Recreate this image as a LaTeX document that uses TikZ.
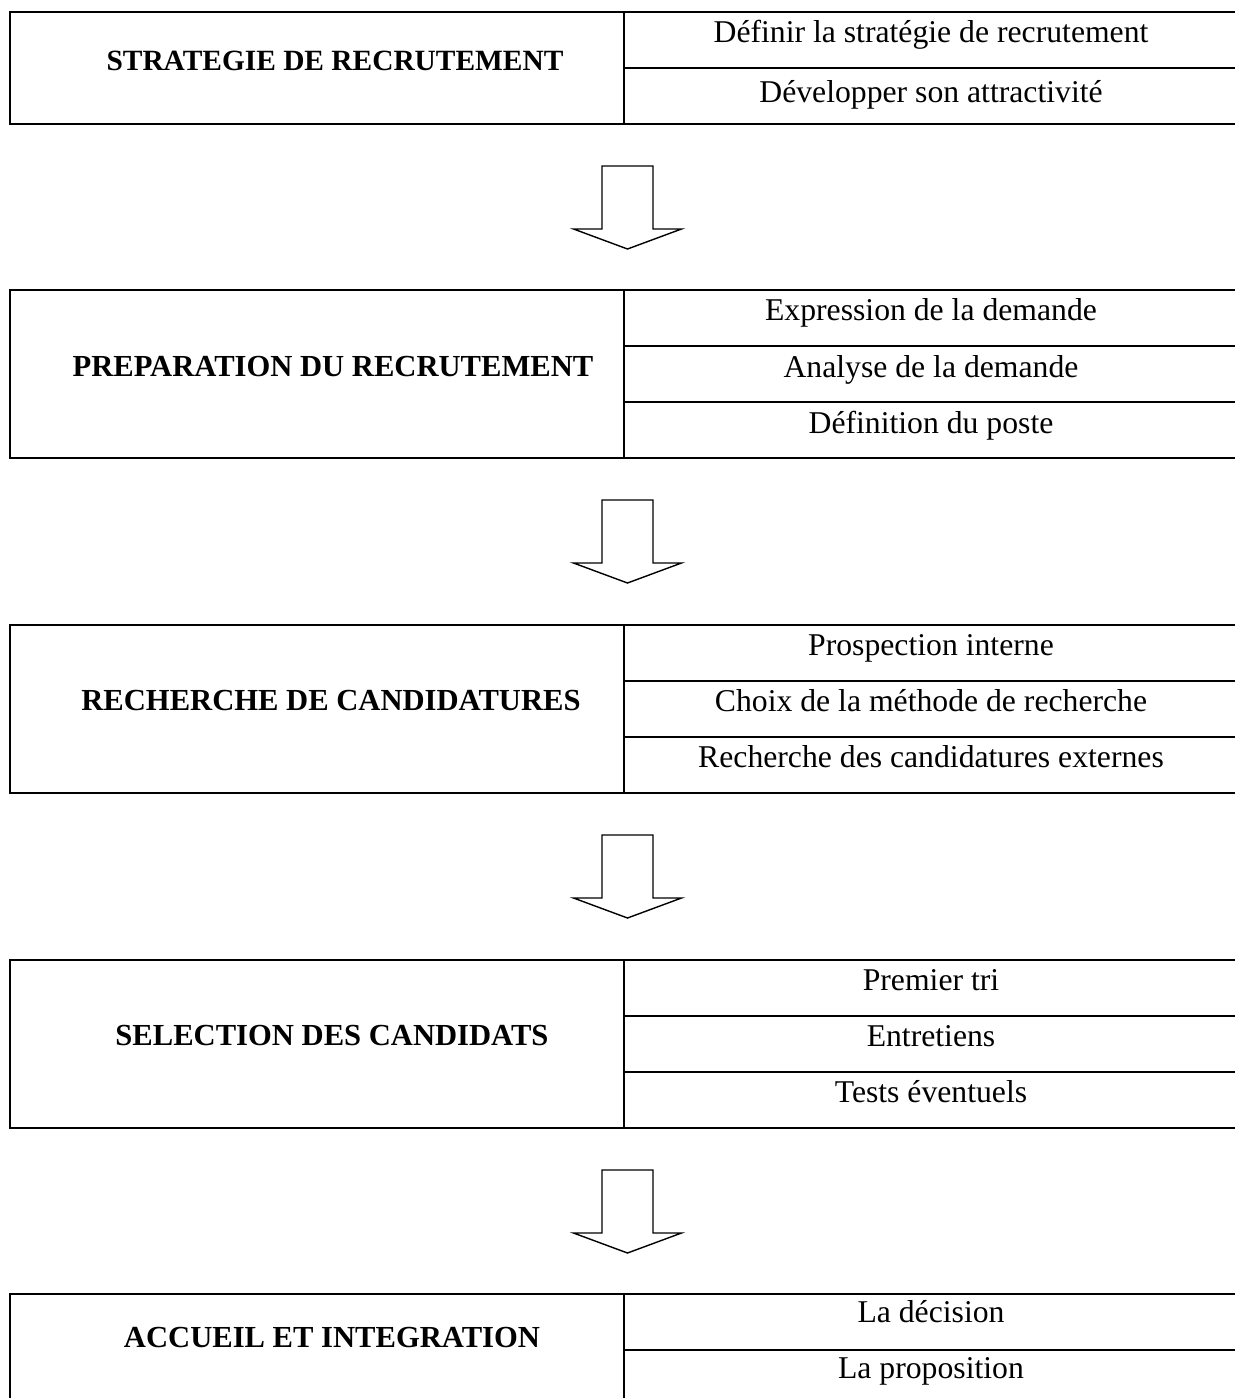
\documentclass[tikz,border=0pt]{standalone}
\usepackage{fontspec}
\setmainfont{Liberation Serif}
\begin{document}
\begin{tikzpicture}[x=0.5pt,y=-0.5pt,
  frame/.style={line width=1pt},
  headtxt/.style={font=\fontsize{15.3}{18}\selectfont\bfseries, anchor=base, inner sep=0pt},
  itemtxt/.style={font=\fontsize{15.85}{19}\selectfont, anchor=base, inner sep=0pt},
  blockarrow/.style={line width=0.7pt, fill=white, line join=miter}]
\useasboundingbox (0,0) rectangle (1235,1398);
\clip (0,0) rectangle (1235,1398);

% ---------- box 1 ----------
\draw[frame] (10,12) rectangle (1245,124);
\draw[frame] (624,12) -- (624,124);
\draw[frame] (624,68) -- (1245,68);
\node[headtxt, font=\fontsize{14.7}{18}\selectfont\bfseries] (h1) at (335,70) {STRATEGIE DE RECRUTEMENT};
\node[itemtxt] (i11) at (931,42) {Définir la stratégie de recrutement};
\node[itemtxt] (i12) at (931,102) {Développer son attractivité};

% ---------- box 2 ----------
\draw[frame] (10,290) rectangle (1245,458);
\draw[frame] (624,290) -- (624,458);
\draw[frame] (624,346) -- (1245,346);
\draw[frame] (624,402) -- (1245,402);
\node[headtxt] (h2) at (333,376) {PREPARATION DU RECRUTEMENT};
\node[itemtxt] (i21) at (931,320) {Expression de la demande};
\node[itemtxt] (i22) at (931,377) {Analyse de la demande};
\node[itemtxt] (i23) at (931,433) {Définition du poste};

% ---------- box 3 ----------
\draw[frame] (10,625) rectangle (1245,793);
\draw[frame] (624,625) -- (624,793);
\draw[frame] (624,681) -- (1245,681);
\draw[frame] (624,737) -- (1245,737);
\node[headtxt] (h3) at (331,710) {RECHERCHE DE CANDIDATURES};
\node[itemtxt] (i31) at (931,655) {Prospection interne};
\node[itemtxt] (i32) at (931,711) {Choix de la méthode de recherche};
\node[itemtxt] (i33) at (931,767) {Recherche des candidatures externes};

% ---------- box 4 ----------
\draw[frame] (10,960) rectangle (1245,1128);
\draw[frame] (624,960) -- (624,1128);
\draw[frame] (624,1016) -- (1245,1016);
\draw[frame] (624,1072) -- (1245,1072);
\node[headtxt] (h4) at (332,1045) {SELECTION DES CANDIDATS};
\node[itemtxt] (i41) at (931,990) {Premier tri};
\node[itemtxt] (i42) at (931,1046) {Entretiens};
\node[itemtxt] (i43) at (931,1102) {Tests éventuels};

% ---------- box 5 ----------
\draw[frame] (10,1294) rectangle (1245,1406);
\draw[frame] (624,1294) -- (624,1406);
\draw[frame] (624,1350) -- (1245,1350);
\node[headtxt] (h5) at (332,1347) {ACCUEIL ET INTEGRATION};
\node[itemtxt] (i51) at (931,1322) {La décision};
\node[itemtxt] (i52) at (931,1378) {La proposition};

% ---------- block arrows ----------
\coordinate (a1) at (627.5,166);
\coordinate (a2) at (627.5,500);
\coordinate (a3) at (627.5,835);
\coordinate (a4) at (627.5,1170);
\foreach \a in {a1,a2,a3,a4}{
  \draw[blockarrow] (\a) ++(-25.5,0) -- ++(0,63) -- ++(-28.5,0)
     -- ++(54,20) -- ++(54,-20) -- ++(-28.5,0) -- ++(0,-63) -- cycle;
}
\end{tikzpicture}
\end{document}
